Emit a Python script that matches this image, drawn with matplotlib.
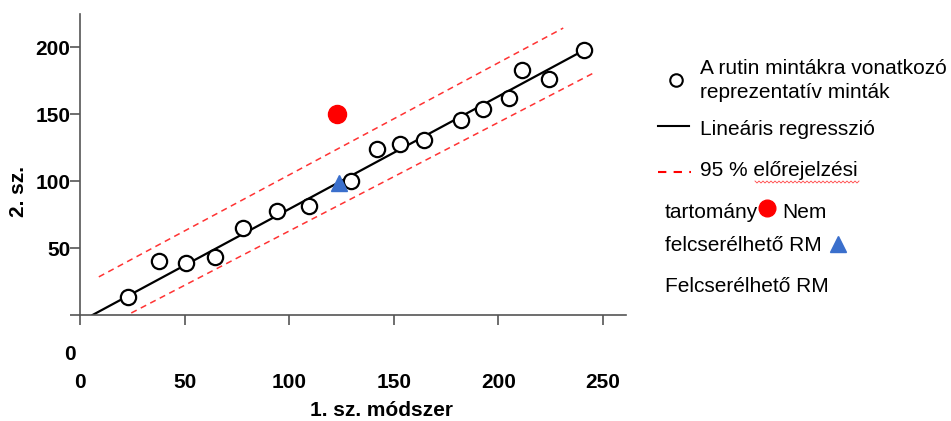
import numpy as np
import matplotlib
matplotlib.use("Agg")
import matplotlib.pyplot as plt
from matplotlib.lines import Line2D

plt.rcParams['font.family'] = ['Liberation Sans', 'DejaVu Sans']

# Representative samples (open circles)
sample_x = [23, 38, 50.5, 64.5, 78, 94, 109.5, 129.5, 142, 153, 164.5, 182, 192.5, 205, 211.5, 224, 241]
sample_y = [13.5, 40, 39, 43, 65, 77.5, 81.5, 100, 124, 127.5, 131, 146, 154, 162, 183, 176.5, 198]

# Regression line and 95 % prediction band end points
reg_x = [6, 241]
reg_y = [0, 198]
upper_x = [9, 231]
upper_y = [28.5, 214.5]
lower_x = [24.5, 245]
lower_y = [1.5, 180.5]

# Non-commutable / commutable RM
nem_x, nem_y = [123], [150]
rm_x, rm_y = [124], [99]

xticks = [0, 50, 100, 150, 200, 250]
yticks = [0, 50, 100, 150, 200]

fig = plt.figure(figsize=(9.51, 4.21), dpi=100)
ax = fig.add_axes([80 / 951, 1 - 315 / 421, 546 / 951, 301 / 421])

ax.plot(upper_x, upper_y, color='#ff3333', lw=1.1, dashes=(4, 3))
ax.plot(lower_x, lower_y, color='#ff3333', lw=1.1, dashes=(4, 3))
ax.plot(reg_x, reg_y, color='black', lw=1.6)
ax.plot(sample_x, sample_y, 'o', ms=11, mfc='white', mec='black', mew=1.6)
ax.plot(nem_x, nem_y, 'o', ms=13, color='#ff0000')
ax.plot(rm_x, rm_y, '^', ms=12, color='#3a6fcc')

ax.set_xlim(0, 261)
ax.set_ylim(0, 225)
for s in ['top', 'right']:
    ax.spines[s].set_visible(False)
for s in ['left', 'bottom']:
    ax.spines[s].set_color('#555555')
    ax.spines[s].set_linewidth(1.2)

ax.set_xticks(xticks)
ax.set_yticks(yticks)
ax.set_yticklabels([''] + [str(v) for v in yticks[1:]])
ax.tick_params(axis='both', direction='out', length=7, width=1.2, color='#555555',
               labelsize=15, labelcolor='black')
ax.tick_params(axis='x', pad=35)
ax.tick_params(axis='y', pad=0)
for lab in ax.get_xticklabels() + ax.get_yticklabels():
    lab.set_fontweight('bold')


# figure pixel coordinates helpers
def fx(px):
    return px / 951


def fy(py):
    return 1 - py / 421


# displaced "0" of the y axis
fig.text(fx(70), fy(355), '0', ha='center', va='center', fontsize=15, fontweight='bold')

fig.text(fx(381), fy(410), '1. sz. módszer', ha='center', va='center',
         fontsize=15, fontweight='bold')
fig.text(fx(19), fy(192), '2. sz.', ha='center', va='center', rotation=90,
         fontsize=15, fontweight='bold')

# legend drawn by hand
fs = 15
fig.add_artist(Line2D([fx(676)], [fy(80)], marker='o', ms=9, mfc='white', mec='black',
                      mew=1.5, transform=fig.transFigure))
fig.text(fx(700), fy(68), 'A rutin mintákra vonatkozó', fontsize=fs, va='center')
fig.text(fx(700), fy(93), 'reprezentatív minták', fontsize=fs, va='center')

fig.add_artist(Line2D([fx(658), fx(689)], [fy(126), fy(126)], color='black', lw=1.5,
                      transform=fig.transFigure))
fig.text(fx(700), fy(130), 'Lineáris regresszió', fontsize=fs, va='center')

fig.add_artist(Line2D([fx(658), fx(691)], [fy(172), fy(172)], color='#ff0000', lw=1.5,
                      dashes=(4, 3.5), transform=fig.transFigure))
fig.text(fx(700), fy(171), '95 % előrejelzési', fontsize=fs, va='center')
# spell-check squiggle under "előrejelzési"
wx = np.arange(755, 861, 2)
wy = 182 + np.where(np.arange(len(wx)) % 2 == 0, -1, 1)
fig.add_artist(Line2D(fx(wx), fy(wy), color='#ff4444', lw=0.6, transform=fig.transFigure))

fig.text(fx(665), fy(212), 'tartomány', fontsize=fs, va='center')
fig.add_artist(Line2D([fx(767)], [fy(208)], marker='o', ms=12, color='#ff0000',
                      transform=fig.transFigure))
fig.text(fx(782), fy(212), 'Nem', fontsize=fs, va='center')

fig.text(fx(665), fy(246), 'felcserélhető RM', fontsize=fs, va='center')
fig.add_artist(Line2D([fx(838)], [fy(244)], marker='^', ms=12, color='#3a6fcc',
                      transform=fig.transFigure))

fig.text(fx(665), fy(287), 'Felcserélhető RM', fontsize=fs, va='center')

fig.savefig('out.png', dpi=100)
